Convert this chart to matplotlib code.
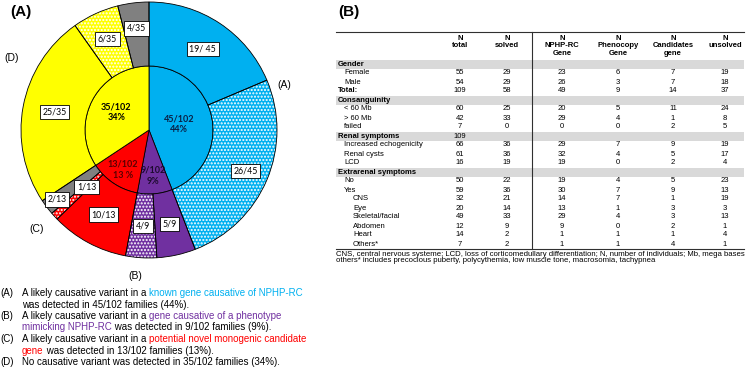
import numpy as np
import matplotlib.pyplot as plt
import matplotlib as mpl
from matplotlib.patches import Rectangle

mpl.rcParams['font.family'] = ['Liberation Sans', 'DejaVu Sans']
mpl.rcParams['hatch.linewidth'] = 1.0

W, H = 752, 368

# ---- pie data (families) ----
group_n = [45, 9, 13, 35]
group_colors = ['#00B0F0', '#7030A0', '#FF0000', '#FFFF00']
group_text = ['45/102\n44%', '9/102\n9%', '13/102\n13 %', '35/102\n34%']
group_text_colors = ['#0A1F44', '#1C0A2E', '#5A0000', '#000000']
group_text_r = [0.24, 0.36, 0.37, 0.29]
group_names = ['(A)', '(B)', '(C)', '(D)']

sub_n = [19, 26, 5, 4, 10, 1, 2, 25, 6, 4]
sub_labels = ['19/ 45', '26/45', '5/9', '4/9', '10/13', '1/13', '2/13', '25/35', '6/35', '4/35']
sub_colors = ['#00B0F0', '#00B0F0', '#7030A0', '#7030A0', '#FF0000', '#FF0000',
              '#808080', '#FFFF00', '#FFFF00', '#808080']
sub_hatch = [None, '.....', None, '.....', None, '.....', None, None, '.....', None]
sub_r = [0.76, 0.82, 0.75, 0.75, 0.75, 0.66, 0.9, 0.75, 0.78, 0.8]

# ---- table data ----
col_heads = ['N\ntotal', 'N\nsolved', 'N\nNPHP-RC\nGene', 'N\nPhenocopy\nGene',
             'N\nCandidates\ngene', 'N\nunsolved']
sections = ['Gender', 'Consanguinity', 'Renal symptoms', 'Extrarenal symptoms']
section_total = [None, None, 109, None]
gender_rows = ['Female', 'Male', 'Total:']
gender_vals = [[55, 29, 23, 6, 7, 19], [54, 29, 26, 3, 7, 18], [109, 58, 49, 9, 14, 37]]
consang_rows = ['< 60 Mb', '> 60 Mb', 'failed']
consang_vals = [[60, 25, 20, 5, 11, 24], [42, 33, 29, 4, 1, 8], [7, 0, 0, 0, 2, 5]]
renal_rows = ['Increased echogenicity', 'Renal cysts', 'LCD']
renal_vals = [[66, 36, 29, 7, 9, 19], [61, 36, 32, 4, 5, 17], [16, 19, 19, 0, 2, 4]]
extra_rows = ['No', 'Yes', 'CNS', 'Eye', 'Skeletal/facial', 'Abdomen', 'Heart', 'Others*']
extra_vals = [[50, 22, 19, 4, 5, 23], [59, 36, 30, 7, 9, 13], [32, 21, 14, 7, 1, 19],
              [20, 14, 13, 1, 3, 3], [49, 33, 29, 4, 3, 13], [12, 9, 9, 0, 2, 1],
              [14, 2, 1, 1, 1, 4], [7, 2, 1, 1, 4, 1]]
row_groups = [(gender_rows, gender_vals), (consang_rows, consang_vals),
              (renal_rows, renal_vals), (extra_rows, extra_vals)]
footnote = ['CNS, central nervous systeme; LCD, loss of corticomedullary differentiation; '
            'N, number of individuals; Mb, mega bases',
            'others* includes precocious puberty, polycythemia, low muscle tone, macrosomia, tachypnea']

fig = plt.figure(figsize=(W / 100, H / 100), dpi=100)

# ---- pie ----
cx, cy, R = 149, 130, 128
pax = fig.add_axes([(cx - R) / W, 1 - (cy + R) / H, 2 * R / W, 2 * R / H])
w_in, _ = pax.pie(group_n, radius=0.5, colors=group_colors, startangle=90, counterclock=False,
                  wedgeprops=dict(edgecolor='black', linewidth=0.6))
w_out, _ = pax.pie(sub_n, radius=1, colors=sub_colors, startangle=90, counterclock=False,
                   wedgeprops=dict(width=0.5, edgecolor='white', linewidth=0))
for w, h in zip(w_out, sub_hatch):
    if h:
        w.set_hatch(h)
pax.pie(sub_n, radius=1, startangle=90, counterclock=False,
        wedgeprops=dict(width=0.5, edgecolor='black', linewidth=0.6, fill=False))
pax.set_xlim(-1, 1)
pax.set_ylim(-1, 1)
pax.axis('off')

for w, lab, r in zip(w_out, sub_labels, sub_r):
    a = np.deg2rad((w.theta1 + w.theta2) / 2)
    pax.text(r * np.cos(a), r * np.sin(a), lab, ha='center', va='center', fontsize=6.3,
             family='Lato',
             bbox=dict(boxstyle='square,pad=0.3', fc='white', ec='black', lw=0.6))
for w, lab, c, r in zip(w_in, group_text, group_text_colors, group_text_r):
    a = np.deg2rad((w.theta1 + w.theta2) / 2)
    pax.text(r * np.cos(a), r * np.sin(a), lab, ha='center', va='center', fontsize=6.5,
             family='Lato', fontweight='bold', color=c, linespacing=1.3)

# ---- overlay axes in pixel units ----
ox = fig.add_axes([0, 0, 1, 1])
ox.set_xlim(0, W)
ox.set_ylim(H, 0)
ox.axis('off')

ox.text(10, 12, '(A)', fontsize=11, fontweight='bold', va='center')
ox.text(338, 12, '(B)', fontsize=11, fontweight='bold', va='center')

for name, (px, py) in zip(group_names, [(284, 85), (135, 276), (37, 229), (12, 58)]):
    ox.text(px, py, name, fontsize=7.5, ha='center', va='center')

renderer = fig.canvas.get_renderer()


def text_width(s, size):
    t1 = ox.text(0, 0, s + 'x', fontsize=size)
    t2 = ox.text(0, 0, 'x', fontsize=size)
    w = t1.get_window_extent(renderer).width - t2.get_window_extent(renderer).width
    t1.remove()
    t2.remove()
    return w


def colored_line(x, y, parts, size=7):
    for s, c in parts:
        ox.text(x, y, s, color=c, fontsize=size, va='center', ha='left')
        x += text_width(s, size)


legend_lines = [
    ('(A)', [('A likely causative variant in a ', 'black'), ('known gene causative of NPHP-RC', '#00B0F0')]),
    ('', [('was detected in 45/102 families (44%).', 'black')]),
    ('(B)', [('A likely causative variant in a ', 'black'), ('gene causative of a phenotype', '#7030A0')]),
    ('', [('mimicking NPHP-RC', '#7030A0'), (' was detected in 9/102 families (9%).', 'black')]),
    ('(C)', [('A likely causative variant in a ', 'black'), ('potential novel monogenic candidate', '#FF0000')]),
    ('', [('gene', '#FF0000'), (' was detected in 13/102 families (13%).', 'black')]),
    ('(D)', [('No causative variant was detected in 35/102 families (34%).', 'black')]),
]
for i, (tag, parts) in enumerate(legend_lines):
    y = 293 + i * 11.5
    if tag:
        ox.text(0, y, tag, fontsize=7, va='center')
    colored_line(22, y, parts)

# ---- table ----
fs = 5.5
col_x = [460, 507, 562, 618, 673, 725]
left, right, vline_x = 336, 744, 532
top, row0, dy = 32, 64, 9.0
ox.plot([left, right], [top, top], color='#303030', lw=0.8)
for x, h in zip(col_x, col_heads):
    ox.text(x, top + 2.5, h, ha='center', va='top', fontsize=fs, fontweight='bold', linespacing=1.15)

y = row0
for sec, tot, (labels, vals) in zip(sections, section_total, row_groups):
    ox.add_patch(Rectangle((left, y - dy / 2), right - left, dy, color='#D9D9D9', lw=0))
    ox.text(left + 2, y, sec, fontsize=fs, fontweight='bold', va='center')
    if tot is not None:
        ox.text(col_x[0], y, str(tot), fontsize=fs, ha='center', va='center')
    y += dy
    for lab, v in zip(labels, vals):
        if lab == 'Total:':
            ox.text(left + 2, y, lab, fontsize=fs, fontweight='bold', va='center')
        elif lab in ['CNS', 'Eye', 'Skeletal/facial', 'Abdomen', 'Heart', 'Others*']:
            ox.text(left + 17, y, lab, fontsize=fs, va='center')
        else:
            ox.text(left + 8, y, lab, fontsize=fs, va='center')
        for x, n in zip(col_x, v):
            ox.text(x, y, str(n), fontsize=fs, ha='center', va='center')
        y += dy
bottom = y - dy / 2 + 0.5
ox.plot([left, right], [bottom, bottom], color='#303030', lw=0.8)
ox.plot([vline_x, vline_x], [top, bottom], color='#303030', lw=0.8)
for i, line in enumerate(footnote):
    ox.text(left, bottom + 5 + i * 7, line, fontsize=5.6, va='center')

fig.savefig('out.png', dpi=100)
